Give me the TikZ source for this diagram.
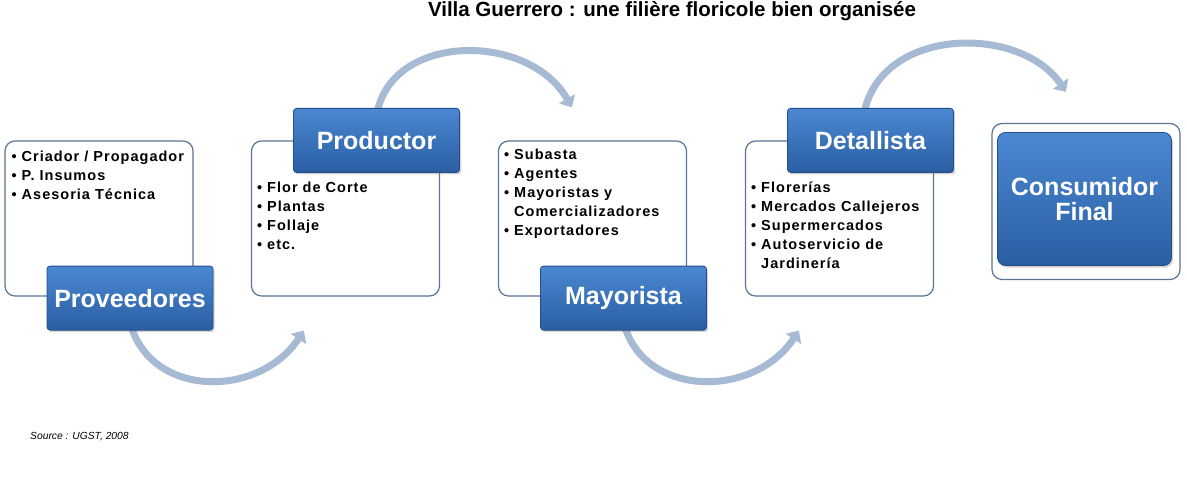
\documentclass[tikz,border=0pt]{standalone}
\usepackage{fontspec}
\setmainfont{Liberation Sans}
\newfontfamily\listfont[LetterSpace=7]{Liberation Sans}
\usetikzlibrary{arrows.meta,positioning,shadows,backgrounds}
\definecolor{boxline}{HTML}{5C7594}
\definecolor{titletop}{HTML}{4A88D2}
\definecolor{titlebot}{HTML}{2A5EA2}
\definecolor{titleline}{HTML}{234F88}
\definecolor{arrowblue}{HTML}{A7BAD4}
\tikzset{
    listbox/.style={draw=boxline, line width=1.2pt, rounded corners=10pt, fill=white,
        minimum width=188pt, minimum height=155pt},
    titlebox/.style={draw=titleline, line width=0.8pt, rounded corners=3pt,
        top color=titletop, bottom color=titlebot, text=white, align=center, inner sep=0pt,
        font=\bfseries\fontsize{25}{25}\selectfont, minimum width=166pt, minimum height=64pt,
        drop shadow={opacity=0.35, shadow xshift=1.5pt, shadow yshift=-2pt}},
    listtext/.style={anchor=north west, align=left, inner sep=0pt,
        font=\listfont\bfseries\fontsize{14.5}{19}\selectfont},
    flowarrow/.style={draw=arrowblue, line width=7pt,
        -{Triangle[width=18pt,length=10pt]}}
}
\begin{document}
\begin{tikzpicture}[x=1pt,y=-1pt]
    \useasboundingbox (0,0) rectangle (1187,500);
    % title
    \node[font=\bfseries\fontsize{20.5}{22}\selectfont] (title) at (672,11)
        {Villa Guerrero : une filière floricole bien organisée};
    % list boxes
    \node[listbox] (l1) at (99,218.5) {};
    \node[listbox] (l2) at (345.5,218.5) {};
    \node[listbox] (l3) at (592.5,218.5) {};
    \node[listbox] (l4) at (839.5,218.5) {};
    \node[listbox, minimum width=188pt, minimum height=156pt] (l5) at (1086,201.5) {};
    % list texts
    \node[listtext] (x1) at ([xshift=7pt,yshift=-10pt]l1.north west)
        {• Criador / Propagador\\• P. Insumos\\• Asesoria Técnica};
    \node[listtext] (x2) at ([xshift=6pt,yshift=-41pt]l2.north west)
        {• Flor de Corte\\• Plantas\\• Follaje\\• etc.};
    \node[listtext] (x3) at ([xshift=6pt,yshift=-8pt]l3.north west)
        {• Subasta\\• Agentes\\• Mayoristas y\\\phantom{• }Comercializadores\\• Exportadores};
    \node[listtext] (x4) at ([xshift=6pt,yshift=-41pt]l4.north west)
        {• Florerías\\• Mercados Callejeros\\• Supermercados\\• Autoservicio de\\\phantom{• }Jardinería};
    % title boxes
    \node[titlebox] (t1) at ([xshift=31pt,yshift=-1.5pt]l1.south) {Proveedores};
    \node[titlebox] (t2) at ([xshift=31pt]l2.north) {Productor};
    \node[titlebox] (t3) at ([xshift=31pt,yshift=-1.5pt]l3.south) {Mayorista};
    \node[titlebox] (t4) at ([xshift=31pt]l4.north) {Detallista};
    \node[titlebox, minimum width=174pt, minimum height=133pt, rounded corners=8pt] (t5)
        at ([xshift=-1.5pt,yshift=2.5pt]l5.center) {Consumidor\\Final};
    % arrows
    \coordinate (a1) at ([xshift=53pt,yshift=-34pt]l2.south west);
    \coordinate (a2) at ([xshift=74pt,yshift=33pt]l3.north west);
    \coordinate (a3) at ([xshift=54pt,yshift=-34pt]l4.south west);
    \coordinate (a4) at ([xshift=-20pt,yshift=31pt]l5.north);
    \begin{scope}[on background layer]
        \draw[flowarrow] ([yshift=8pt]t1.south) .. controls +(20,76) and +(-45,68) .. (a1);
        \draw[flowarrow] ([yshift=-8pt]t2.north) .. controls +(13,-84) and +(-43,-76) .. (a2);
        \draw[flowarrow] ([yshift=8pt]t3.south) .. controls +(20,76) and +(-45,68) .. (a3);
        \draw[flowarrow] ([xshift=-7pt,yshift=-8pt]t4.north) .. controls +(15,-90) and +(-46,-68) .. (a4);
    \end{scope}
    % source
    \node[font=\itshape\fontsize{10.3}{12}\selectfont, anchor=west, inner sep=0pt] (src) at (30,437) {Source : UGST, 2008};
\end{tikzpicture}
\end{document}
